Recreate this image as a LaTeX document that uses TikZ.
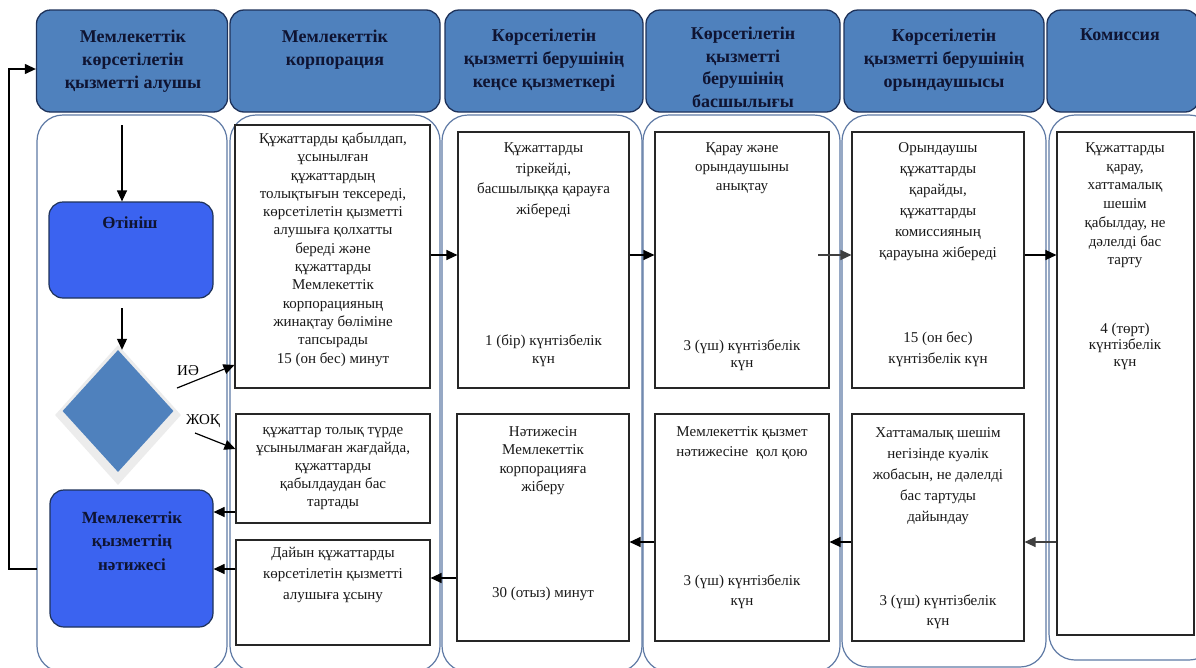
\documentclass[tikz,border=0pt]{standalone}
\usepackage{fontspec}
\setmainfont{Liberation Serif}
\usetikzlibrary{arrows.meta,shapes.geometric}
\definecolor{hdrfill}{RGB}{79,129,189}
\definecolor{hdrline}{RGB}{30,50,90}
\definecolor{lanecol}{RGB}{95,122,165}
\definecolor{bluebox}{RGB}{59,99,240}
\definecolor{txtnavy}{RGB}{15,20,50}
\begin{document}
\begin{tikzpicture}[x=1pt,y=-1pt,
  hdr/.style={draw=hdrline, line width=1.3pt, fill=hdrfill, rounded corners=14pt, rectangle, inner sep=0pt},
  lane/.style={draw=lanecol, line width=1.2pt, fill=white, rounded corners=26pt},
  pbox/.style={draw=black!85, line width=1.1pt, fill=white, rectangle, inner sep=0pt},
  bbox/.style={draw=hdrline, line width=1.2pt, fill=bluebox, rounded corners=14pt, rectangle, inner sep=0pt},
  btxt/.style={anchor=north, align=center, inner sep=0pt, text=black!90},
  htxt/.style={anchor=north, align=center, inner sep=0pt, font=\fontsize{18}{23}\selectfont\bfseries, text=txtnavy},
  arr/.style={line width=1.2pt, -{Triangle[length=11pt,width=10pt]}},
]
\useasboundingbox (0,0) rectangle (1196,667);
\fill[white] (0,0) rectangle (1196,667);
\begin{scope}
\clip (0,0) rectangle (1196,667);
% lanes
\draw[lane] (37,115) rectangle (227,672);
\draw[lane] (230,115) rectangle (440,672);
\draw[lane] (442,115) rectangle (642,672);
\draw[lane] (643,115) rectangle (840,672);
\draw[lane] (842,115) rectangle (1046,667);
\draw[lane] (1049,115) rectangle (1215,660);
% headers
\node[hdr, minimum width=191, minimum height=102] (h1) at (132,61) {};
\node[hdr, minimum width=210, minimum height=102] (h2) at (335,61) {};
\node[hdr, minimum width=198, minimum height=102] (h3) at (544,61) {};
\node[hdr, minimum width=194, minimum height=102] (h4) at (743,61) {};
\node[hdr, minimum width=200, minimum height=102] (h5) at (944,61) {};
\node[hdr, minimum width=152, minimum height=102] (h6) at (1123,61) {};
\end{scope}
\node[htxt] (ht1) at (133,30) {Мемлекеттік\\көрсетілетін\\қызметті алушы};
\node[htxt] (ht2) at (335,30) {Мемлекеттік\\корпорация};
\node[htxt] (ht3) at (544,29) {Көрсетілетін\\қызметті берушінің\\кеңсе қызметкері};
\node[htxt, font=\fontsize{18}{22.5}\selectfont\bfseries] (ht4) at (743,27) {Көрсетілетін\\қызметті\\берушінің\\басшылығы};
\node[htxt] (ht5) at (944,29) {Көрсетілетін\\қызметті берушінің\\орындаушысы};
\node[htxt] (ht6) at (1120,29) {Комиссия};
% process boxes
\node[pbox, minimum width=195, minimum height=263] (b2a) at (332.5,256.5) {};
\node[pbox, minimum width=194, minimum height=109] (b2b) at (333,468.5) {};
\node[pbox, minimum width=194, minimum height=105] (b2c) at (333,592.5) {};
\node[pbox, minimum width=171, minimum height=256] (b3a) at (543.5,260) {};
\node[pbox, minimum width=174, minimum height=256] (b4a) at (742,260) {};
\node[pbox, minimum width=172, minimum height=256] (b5a) at (938,260) {};
\node[pbox, minimum width=137, minimum height=503] (b6) at (1125.5,383.5) {};
\node[pbox, minimum width=172, minimum height=227] (b3b) at (543,527.5) {};
\node[pbox, minimum width=174, minimum height=227] (b4b) at (742,527.5) {};
\node[pbox, minimum width=172, minimum height=227] (b5b) at (938,527.5) {};
% texts
\node[btxt, font=\fontsize{15}{18.3}\selectfont] (t2a) at (333,132.5) {Құжаттарды қабылдап,\\ұсынылған\\құжаттардың\\толықтығын тексереді,\\көрсетілетін қызметті\\алушыға қолхатты\\береді және\\құжаттарды\\Мемлекеттік\\корпорацияның\\жинақтау бөліміне\\тапсырады\\15 (он бес) минут};
\node[btxt, font=\fontsize{15}{20.5}\selectfont] (t3a) at (543.5,142.5) {Құжаттарды\\тіркейді,\\басшылыққа қарауға\\жібереді};
\node[btxt, font=\fontsize{15}{18}\selectfont] (t3a2) at (543.5,334.5) {1 (бір) күнтізбелік\\күн};
\node[btxt, font=\fontsize{15}{19}\selectfont] (t4a) at (742,142.5) {Қарау және\\орындаушыны\\анықтау};
\node[btxt, font=\fontsize{15}{17}\selectfont] (t4a2) at (742,339.5) {3 (үш) күнтізбелік\\күн};
\node[btxt, font=\fontsize{15}{21}\selectfont] (t5a) at (938,142.5) {Орындаушы\\құжаттарды\\қарайды,\\құжаттарды\\комиссияның\\қарауына жібереді};
\node[btxt, font=\fontsize{15}{21}\selectfont] (t5a2) at (938,331.5) {15 (он бес)\\күнтізбелік күн};
\node[btxt, font=\fontsize{15}{18.7}\selectfont] (t6) at (1125,142.5) {Құжаттарды\\қарау,\\хаттамалық\\шешім\\қабылдау, не\\дәлелді бас\\тарту};
\node[btxt, font=\fontsize{15}{16.5}\selectfont] (t6b) at (1125,322.5) {4 (төрт)\\күнтізбелік\\күн};
\node[btxt, font=\fontsize{15}{18}\selectfont] (t2b) at (333,427.5) {құжаттар толық түрде\\ұсынылмаған жағдайда,\\құжаттарды\\қабылдаудан бас\\тартады};
\node[btxt, font=\fontsize{15}{21}\selectfont] (t2c) at (333,547.5) {Дайын құжаттарды\\көрсетілетін қызметті\\алушыға ұсыну};
\node[btxt, font=\fontsize{15}{18.3}\selectfont] (t3b) at (543,426.5) {Нәтижесін\\Мемлекеттік\\корпорацияға\\жіберу};
\node[btxt, font=\fontsize{15}{18}\selectfont] (t3b2) at (543,586.5) {30 (отыз) минут};
\node[btxt, font=\fontsize{15}{20}\selectfont] (t4b) at (742,426.5) {Мемлекеттік қызмет\\нәтижесіне\ \ қол қою};
\node[btxt, font=\fontsize{15}{20}\selectfont] (t4b2) at (742,574.5) {3 (үш) күнтізбелік\\күн};
\node[btxt, font=\fontsize{15}{21}\selectfont] (t5b) at (938,427.5) {Хаттамалық шешім\\негізінде куәлік\\жобасын, не дәлелді\\бас тартуды\\дайындау};
\node[btxt, font=\fontsize{15}{20}\selectfont] (t5b2) at (938,594.5) {3 (үш) күнтізбелік\\күн};
% column 1
\node[bbox, minimum width=164, minimum height=96] (otn) at (131,250) {};
\node[btxt, font=\fontsize{17}{20}\selectfont\bfseries, text=txtnavy] (otnT) at (130,216) {Өтініш};
\node[bbox, minimum width=163, minimum height=137] (nat) at (131.5,558.5) {};
\node[btxt, font=\fontsize{17}{23.5}\selectfont\bfseries, text=txtnavy] (natT) at (132,511) {Мемлекеттік\\қызметтің\\нәтижесі};
\node[diamond, fill=gray!15, minimum width=126, minimum height=140, inner sep=0pt] (diash) at (118,415) {};
\node[diamond, fill=hdrfill, minimum width=111, minimum height=122, inner sep=0pt] (dia) at (118,411) {};
\node[inner sep=0pt, font=\fontsize{15}{16}\selectfont] (yes) at (188,371) {ИӘ};
\node[inner sep=0pt, font=\fontsize{15}{16}\selectfont] (no) at (203,421) {ЖОҚ};
% connectors
\coordinate (a1s) at (122,125);
\coordinate (a2s) at (122,308);
\draw[arr] (a1s) -- (a1s |- otn.north);
\draw[arr] (a2s) -- (a2s |- dia.north);
\coordinate (yesS) at (177,388);
\coordinate (noS) at (195,433);
\draw[arr] (yesS) -- (b2a.west |- 0,365);
\draw[arr] (noS) -- (b2b.west |- 0,449);
\draw[arr] (b2b.west |- 0,512) -- (nat.east |- 0,512);
\draw[arr] (b2c.west |- 0,569) -- (nat.east |- 0,569);
\coordinate (lp) at (37,569);
\draw[arr] (lp) -- (9,569) -- (9,69) -- (h1.west |- 0,69);
\draw[arr] (b2a.east |- 0,255) -- (b3a.west |- 0,255);
\draw[arr] (b3a.east |- 0,255) -- (b4a.west |- 0,255);
\coordinate (c45) at (818,255);
\draw[arr, draw=black!75] (c45) -- (b5a.west |- 0,255);
\draw[arr] (b5a.east |- 0,255) -- (b6.west |- 0,255);
\draw[arr, draw=black!75] (b6.west |- 0,542) -- (b5b.east |- 0,542);
\draw[arr] (b5b.west |- 0,542) -- (b4b.east |- 0,542);
\draw[arr] (b4b.west |- 0,542) -- (b3b.east |- 0,542);
\draw[arr] (b3b.west |- 0,578) -- (b2c.east |- 0,578);
\end{tikzpicture}
\end{document}
